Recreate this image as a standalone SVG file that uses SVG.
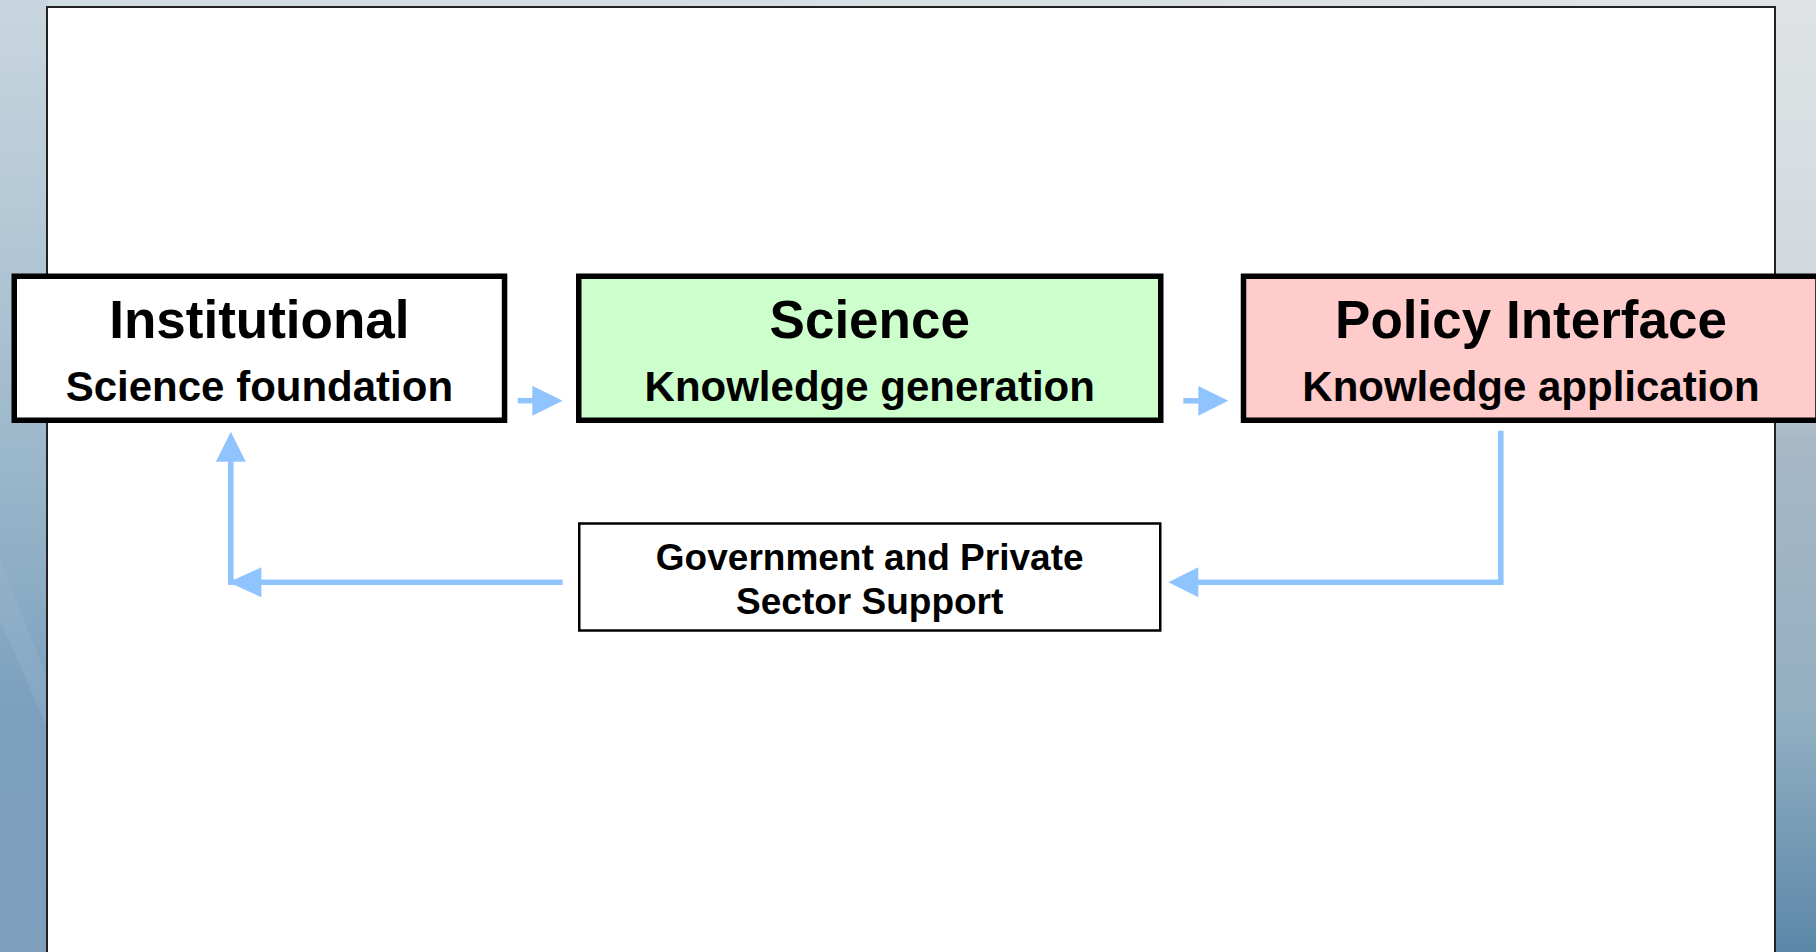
<svg xmlns="http://www.w3.org/2000/svg" width="1816" height="952" viewBox="0 0 1816 952">
  <defs>
    <linearGradient id="bgL" x1="0" y1="0" x2="0" y2="1">
      <stop offset="0" stop-color="#c9d6df"/>
      <stop offset="0.35" stop-color="#a9c1d1"/>
      <stop offset="0.6" stop-color="#8eaec5"/>
      <stop offset="0.75" stop-color="#7b9fbd"/>
      <stop offset="1" stop-color="#7f9fbd"/>
    </linearGradient>
    <linearGradient id="bgR" x1="0" y1="0" x2="0" y2="1">
      <stop offset="0" stop-color="#dfe3e5"/>
      <stop offset="0.4" stop-color="#ccd5db"/>
      <stop offset="0.46" stop-color="#a7b8c6"/>
      <stop offset="0.75" stop-color="#93afc2"/>
      <stop offset="1" stop-color="#5b88a9"/>
    </linearGradient>
    <linearGradient id="bgT" x1="0" y1="0" x2="1" y2="0">
      <stop offset="0" stop-color="#cfdbe2"/>
      <stop offset="1" stop-color="#e0e4e6"/>
    </linearGradient>
    <style>
      .box { stroke: #000; stroke-width: 5.5; }
      .sub { stroke: #000; stroke-width: 2.5; fill: #fff; }
      .t1 { font-family: "Liberation Sans", Arial, sans-serif; font-weight: bold; font-size: 53px; fill: #000; text-anchor: middle; }
      .t2 { font-family: "Liberation Sans", Arial, sans-serif; font-weight: bold; font-size: 42px; fill: #000; text-anchor: middle; }
      .t3 { font-family: "Liberation Sans", Arial, sans-serif; font-weight: bold; font-size: 37px; fill: #000; text-anchor: middle; }
      .ln { stroke: #90c4ff; stroke-width: 5.5; fill: none; }
      .hd { fill: #90c4ff; }
    </style>
  </defs>

  <!-- background -->
  <rect x="0" y="0" width="1816" height="952" fill="url(#bgT)"/>
  <rect x="0" y="0" width="48" height="952" fill="url(#bgL)"/>
  <polygon points="0,560 48,680 48,730 0,620" fill="#9fbad0" opacity="0.3"/>
  <rect x="1774" y="0" width="42" height="952" fill="url(#bgR)"/>

  <!-- panel -->
  <rect x="47" y="7" width="1728" height="960" fill="#fff" stroke="#222" stroke-width="2"/>

  <g id="connectors">
    <line class="ln" x1="517.7" y1="400.7" x2="534" y2="400.7"/>
    <polygon class="hd" points="532.3,385.7 562.7,400.7 532.3,415.7"/>
    <line class="ln" x1="1183.3" y1="400.8" x2="1200" y2="400.8"/>
    <polygon class="hd" points="1198.3,386 1228.3,400.8 1198.3,415.7"/>
    <polyline class="ln" points="1500.8,430.7 1500.8,582.3 1196,582.3"/>
    <polygon class="hd" points="1168.3,582.3 1198.3,567.3 1198.3,597.3"/>
    <polyline class="ln" points="562.6,582.3 230.8,582.3 230.8,459"/>
    <polygon class="hd" points="228.5,582.3 261.4,567.3 261.4,597.3"/>
    <polygon class="hd" points="230.8,431.7 215.8,461.7 245.8,461.7"/>
  </g>

  <g id="institutional">
    <rect class="box" x="14.25" y="276.25" width="490.3" height="144" fill="#fff"/>
    <text class="t1" x="259.4" y="337.5">Institutional</text>
    <text class="t2" x="259.4" y="400.5">Science foundation</text>
  </g>

  <g id="science">
    <rect class="box" x="578.75" y="276.25" width="582" height="144" fill="#ccffcc"/>
    <text class="t1" x="869.75" y="337.5">Science</text>
    <text class="t2" x="869.75" y="400.5">Knowledge generation</text>
  </g>

  <g id="policy">
    <rect class="box" x="1243.5" y="276.25" width="574.5" height="144" fill="#ffcccc"/>
    <text class="t1" x="1531" y="337.5">Policy Interface</text>
    <text class="t2" x="1531" y="400.5">Knowledge application</text>
  </g>

  <g id="support">
    <rect class="sub" x="579.25" y="523.5" width="581" height="107"/>
    <text class="t3" x="869.7" y="569.7">Government and Private</text>
    <text class="t3" x="869.7" y="613.8">Sector Support</text>
  </g>
</svg>
